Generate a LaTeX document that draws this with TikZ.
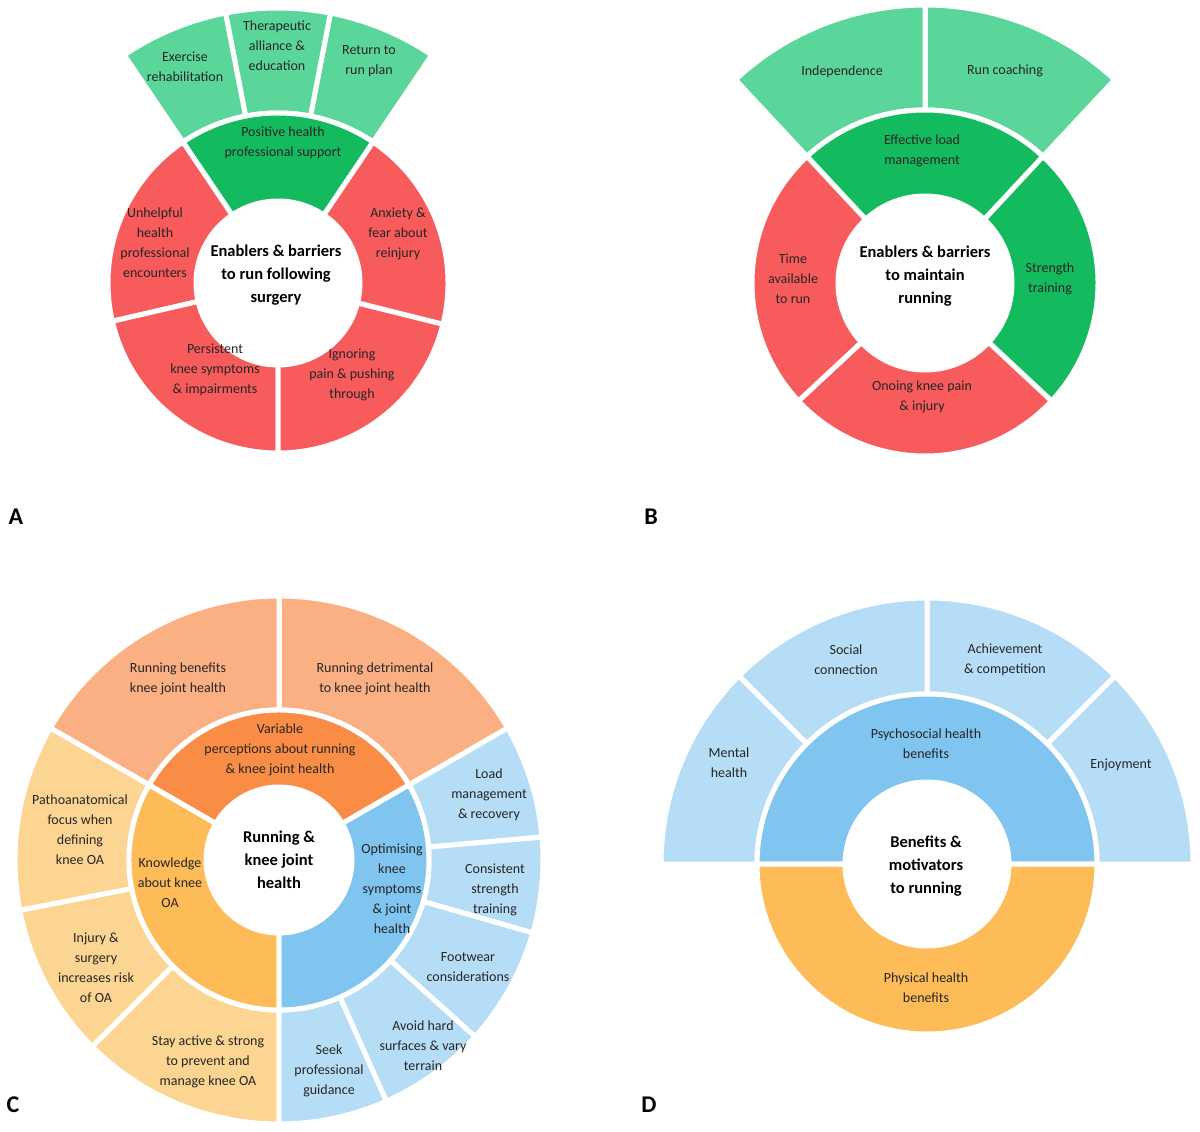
\documentclass[tikz,border=0pt]{standalone}
\usepackage{fontspec}
\setmainfont{Carlito}
\begin{document}
\definecolor{rd}{HTML}{F75B5B}
\definecolor{lg}{HTML}{5BD69B}
\definecolor{dg}{HTML}{14BA5E}
\definecolor{oo}{HTML}{FBB083}
\definecolor{io}{HTML}{F98D45}
\definecolor{oy}{HTML}{FDD592}
\definecolor{iy}{HTML}{FDBC57}
\definecolor{ob}{HTML}{B6DDF6}
\definecolor{ib}{HTML}{80C4F0}
\definecolor{txt}{HTML}{262626}
\newcommand\seg[6]{\filldraw[fill=#6,draw=white,line width=5pt,line join=miter] ([shift={(#4:#3)}]#1) arc[start angle=#4,end angle=#5,radius=#3] -- ([shift={(#5:#2)}]#1) arc[start angle=#5,end angle=#4,radius=#2] -- cycle;}
\begin{tikzpicture}[x=1pt,y=1pt,
 lab/.style={align=center,font=\fontsize{14}{20}\selectfont,text=txt,inner sep=0pt},
 ctr/.style={align=center,font=\fontsize{16.5}{23}\selectfont\bfseries,text=black,inner sep=0pt},
 let/.style={font=\fontsize{24}{24}\selectfont\bfseries,inner sep=0pt}]
\useasboundingbox (0,0) rectangle (1200,-1132);
% ---- A ----
\coordinate (ca) at (278,-283);
\seg{ca}{170}{275}{56}{79}{lg}
\seg{ca}{170}{275}{79}{101}{lg}
\seg{ca}{170}{275}{101}{124}{lg}
\seg{ca}{82}{170}{56}{124}{dg}
\seg{ca}{82}{170}{124}{193}{rd}
\seg{ca}{82}{170}{193}{270}{rd}
\seg{ca}{82}{170}{270}{346}{rd}
\seg{ca}{82}{170}{-14}{56}{rd}
\node[lab] (a1) at (185,-67) {Exercise\\rehabilitation};
\node[lab] (a2) at (277,-46) {Therapeutic\\alliance \&\\education};
\node[lab] (a3) at (369,-61) {Return to\\run plan};
\node[lab] (a4) at (283,-143) {Positive health\\professional support};
\node[lab] (a5) at (155,-243) {Unhelpful\\health\\professional\\encounters};
\node[lab] (a6) at (398,-234) {Anxiety \&\\fear about\\reinjury};
\node[lab] (a7) at (215,-370) {Persistent\\knee symptoms\\\& impairments};
\node[lab] (a8) at (352,-375) {Ignoring\\pain \& pushing\\through};
\node[ctr] (a0) at (276,-275) {Enablers \& barriers\\to run following\\surgery};
\node[let] (LA) at (16,-517) {A};
% ---- B ----
\coordinate (cb) at (925,-283);
\seg{cb}{173}{278}{47}{90}{lg}
\seg{cb}{173}{278}{90}{133}{lg}
\seg{cb}{87}{173}{47}{133}{dg}
\seg{cb}{87}{173}{-43}{47}{dg}
\seg{cb}{87}{173}{-137}{-43}{rd}
\seg{cb}{87}{173}{133}{223}{rd}
\node[lab] (b1) at (842,-72) {Independence};
\node[lab] (b2) at (1005,-71) {Run coaching};
\node[lab] (b3) at (922,-151) {Effective load\\management};
\node[lab] (b4) at (793,-279) {Time\\available\\to run};
\node[lab] (b5) at (1050,-279) {Strength\\training};
\node[lab] (b6) at (922,-397) {Onoing knee pain\\\& injury};
\node[ctr] (b0) at (925,-276) {Enablers \& barriers\\to maintain\\running};
\node[let] (LB) at (651,-517) {B};
% ---- C ----
\coordinate (cc) at (279,-860);
\seg{cc}{150}{264}{30}{90}{oo}
\seg{cc}{150}{264}{90}{150}{oo}
\seg{cc}{150}{264}{150}{191}{oy}
\seg{cc}{150}{264}{191}{225}{oy}
\seg{cc}{150}{264}{225}{270}{oy}
\seg{cc}{150}{264}{270}{294}{ob}
\seg{cc}{150}{264}{294}{318}{ob}
\seg{cc}{150}{264}{318}{344}{ob}
\seg{cc}{150}{264}{344}{365}{ob}
\seg{cc}{150}{264}{5}{30}{ob}
\seg{cc}{73}{150}{30}{150}{io}
\seg{cc}{73}{150}{150}{270}{iy}
\seg{cc}{73}{150}{270}{390}{ib}
\node[lab] (c1) at (178,-679) {Running benefits\\knee joint health};
\node[lab] (c2) at (375,-679) {Running detrimental\\to knee joint health};
\node[lab] (c3) at (280,-750) {Variable\\perceptions about running\\\& knee joint health};
\node[lab] (c4) at (489,-795) {Load\\management\\\& recovery};
\node[lab] (c5) at (80,-830) {Pathoanatomical\\focus when\\defining\\knee OA};
\node[lab] (c6) at (170,-883) {Knowledge\\about knee\\OA};
\node[lab] (c7) at (392,-889) {Optimising\\knee\\symptoms\\\& joint\\health};
\node[lab] (c8) at (495,-890) {Consistent\\strength\\training};
\node[lab] (c9) at (96,-968) {Injury \&\\surgery\\increases risk\\of OA};
\node[lab] (c10) at (468,-967) {Footwear\\considerations};
\node[lab] (c11) at (423,-1046) {Avoid hard\\surfaces \& vary\\terrain};
\node[lab] (c12) at (329,-1071) {Seek\\professional\\guidance};
\node[lab] (c13) at (208,-1062) {Stay active \& strong\\to prevent and\\manage knee OA};
\node[ctr] (c0) at (279,-860) {Running \&\\knee joint\\health};
\node[let] (LC) at (13,-1105) {C};
% ---- D ----
\coordinate (cd) at (927,-864);
\seg{cd}{170}{266}{0}{45}{ob}
\seg{cd}{170}{266}{45}{90}{ob}
\seg{cd}{170}{266}{90}{135}{ob}
\seg{cd}{170}{266}{135}{180}{ob}
\seg{cd}{82}{170}{0}{180}{ib}
\seg{cd}{82}{170}{180}{360}{iy}
\node[lab] (d1) at (846,-660) {Social\\connection};
\node[lab] (d2) at (1005,-660) {Achievement\\\& competition};
\node[lab] (d3) at (729,-763) {Mental\\health};
\node[lab] (d4) at (926,-744) {Psychosocial health\\benefits};
\node[lab] (d5) at (1121,-765) {Enjoyment};
\node[lab] (d6) at (926,-988) {Physical health\\benefits};
\node[ctr] (d0) at (926,-866) {Benefits \&\\motivators\\to running};
\node[let] (LD) at (649,-1105) {D};
\end{tikzpicture}
\end{document}
